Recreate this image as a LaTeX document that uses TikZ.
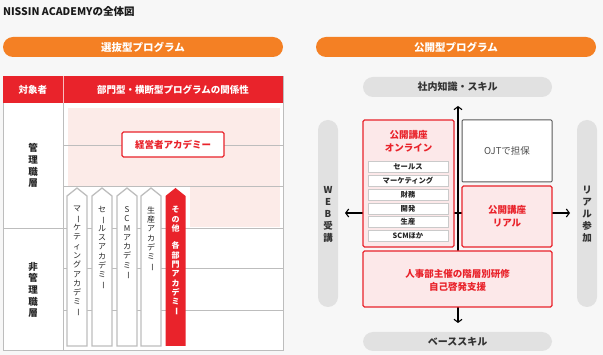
\documentclass[tikz,border=0pt]{standalone}
\usepackage{fontspec}
\setmainfont{Noto Sans CJK JP}
\usetikzlibrary{arrows.meta}
\definecolor{myred}{HTML}{E9232B}
\definecolor{myorange}{HTML}{F48024}
\definecolor{mypink}{HTML}{FCE8E9}
\definecolor{pillgray}{HTML}{E1E1E1}
\definecolor{bgcol}{HTML}{F7F7F7}
\definecolor{tlinecol}{HTML}{BDBDBD}
\definecolor{dotcol}{HTML}{FCEBE8}
\definecolor{darktext}{HTML}{333333}
\newcommand\vbar{\rotatebox[origin=c]{-90}{ー}}
\begin{document}
\begin{tikzpicture}[x=1pt,y=-1pt,
  every node/.style={inner sep=0pt,outer sep=0pt},
  orangepill/.style={fill=myorange,rounded corners=10pt,text=white,font=\bfseries\fontsize{10.5}{12}\selectfont},
  graypill/.style={fill=pillgray,rounded corners=10pt,text=darktext,font=\bfseries\fontsize{10}{12}\selectfont},
  tline/.style={draw=tlinecol,line width=0.9pt},
  arrowbox/.style={draw=tlinecol,line width=1.3pt,fill=white,line join=miter},
  arrtext/.style={anchor=north,align=center,text=black!85,font=\fontsize{8}{9.3}\selectfont},
  vlabel/.style={align=center,text=black!85,font=\bfseries\fontsize{9.5}{11.7}\selectfont},
  sidelabel/.style={align=center,text=darktext,font=\bfseries\fontsize{9.5}{12}\selectfont},
  redbox/.style={draw=myred,line width=1.2pt,fill=mypink,rounded corners=1.5pt},
  redtext/.style={align=center,text=myred,font=\bfseries\fontsize{9.5}{13}\selectfont},
  listbox/.style={draw=tlinecol!80,line width=0.8pt,fill=white,minimum width=80pt,minimum height=11pt,text=black!85,font=\bfseries\fontsize{7.3}{8}\selectfont},
  axis/.style={line width=1.1pt,black,{Straight Barb[length=3pt,width=8pt]}-{Straight Barb[length=3pt,width=8pt]}}
]
\useasboundingbox[fill=bgcol] (0,0) rectangle (603,355);

% title
\node[anchor=west,font=\bfseries\fontsize{10.5}{12}\selectfont,text=black!90] (title) at (3,11.5) {NISSIN ACADEMYの全体図};

% pills
\node[orangepill,minimum width=280pt,minimum height=20pt] (selpill) at (143,47) {選抜型プログラム};
\node[orangepill,minimum width=280pt,minimum height=20pt] (pubpill) at (456,47) {公開型プログラム};

% ---------- left table ----------
\draw[tline,fill=white] (3,76) rectangle (283,350);
\fill[dotcol] (68,108) rectangle (280,186);
\fill[dotcol] (190,187) rectangle (280,227);
\draw[tline] (63,145) -- (283,145);
\draw[tline] (63,186) -- (283,186);
\draw[tline] (3,228) -- (283,228);
\draw[tline] (63,268) -- (283,268);
\draw[tline] (63,310) -- (283,310);
\fill[myred] (3,76) rectangle (283,103);
\draw[draw=white!70!myred,line width=0.9pt] (63,76) -- (63,103);
\draw[tline] (63,103) -- (63,350);
\node[text=white,font=\bfseries\fontsize{9.5}{11}\selectfont] (hdr1) at (33,89.5) {対象者};
\node[text=white,font=\bfseries\fontsize{9.5}{11}\selectfont] (hdr2) at (173,89.5) {部門型・横断型プログラムの関係性};

\node[vlabel] (mgr) at (33,165.5) {管\\理\\職\\層};
\node[vlabel] (nonmgr) at (33,290) {非\\管\\理\\職\\層};

\node[draw=myred,line width=1.2pt,fill=white,rounded corners=1.5pt,minimum width=102pt,minimum height=25pt,text=myred,font=\bfseries\fontsize{9.5}{11}\selectfont] (exec) at (173,144.5) {経営者アカデミー};

% upward arrows
\foreach \cx in {77,102,127,151}{
  \draw[arrowbox] (\cx-10,346) -- (\cx-10,196) -- (\cx,188) -- (\cx+10,196) -- (\cx+10,346) -- cycle;
}
\fill[myred] (165.5,346) -- (165.5,196) -- (175.5,188) -- (185.5,196) -- (185.5,346) -- cycle;

\node[arrtext] (mkt) at (77,206.5) {マ\\\vbar\\ケ\\テ\\ィ\\ン\\グ\\ア\\カ\\デ\\ミ\\\vbar};
\node[arrtext] (sales) at (102,206.5) {セ\\\vbar\\ル\\ス\\ア\\カ\\デ\\ミ\\\vbar};
\node[arrtext] (scm) at (127,206.5) {S\\C\\M\\ア\\カ\\デ\\ミ\\\vbar};
\node[arrtext] (prod) at (151,206.5) {生\\産\\ア\\カ\\デ\\ミ\\\vbar};
\node[arrtext,text=white,font=\bfseries\fontsize{8}{9.3}\selectfont] (other) at (175.5,206.5) {そ\\の\\他\\[8pt]各\\部\\門\\ア\\カ\\デ\\ミ\\\vbar};

% ---------- right panel ----------
\node[graypill,minimum width=189pt,minimum height=20pt] (know) at (457.5,87) {社内知識・スキル};
\node[graypill,minimum width=189pt,minimum height=19pt] (base) at (457.5,341.5) {ベーススキル};
\node[fill=pillgray,rounded corners=10pt,minimum width=20pt,minimum height=187pt] (webpill) at (328,213.5) {};
\node[fill=pillgray,rounded corners=10pt,minimum width=20pt,minimum height=187pt] (realpill) at (587,213.5) {};
\node[sidelabel] (web) at (328,214) {W\\E\\B\\受\\講};
\node[sidelabel] (real) at (587,214) {リ\\ア\\ル\\参\\加};

\coordinate (uptip) at (458,106);
\coordinate (downtip) at (458,323);
\coordinate (lefttip) at (345,213);
\coordinate (righttip) at (570,213);
\draw[axis] (downtip) -- (uptip);
\draw[axis] (lefttip) -- (righttip);

\draw[redbox] (363,120) rectangle (454,247);
\node[redtext] (online) at (408.5,141.5) {公開講座\\オンライン};
\node[listbox] (l1) at (408,166.5) {セールス};
\node[listbox] (l2) at (408,180.5) {マーケティング};
\node[listbox] (l3) at (408,194.5) {財務};
\node[listbox] (l4) at (408,208.5) {開発};
\node[listbox] (l5) at (408,222.2) {生産};
\node[listbox] (l6) at (408,235.8) {SCMほか};

\node[draw=black!65,line width=1pt,fill=white,rounded corners=1pt,minimum width=90pt,minimum height=62pt,text=black!70,font=\fontsize{9.5}{11}\selectfont] (ojt) at (507,151) {OJTで担保};
\draw[redbox] (462,186) rectangle (552,247);
\node[redtext] (realbox) at (507,216.5) {公開講座\\リアル};
\draw[redbox] (363,251) rectangle (552,307);
\node[redtext] (hr) at (457.5,280) {人事部主催の階層別研修\\自己啓発支援};
\end{tikzpicture}
\end{document}
